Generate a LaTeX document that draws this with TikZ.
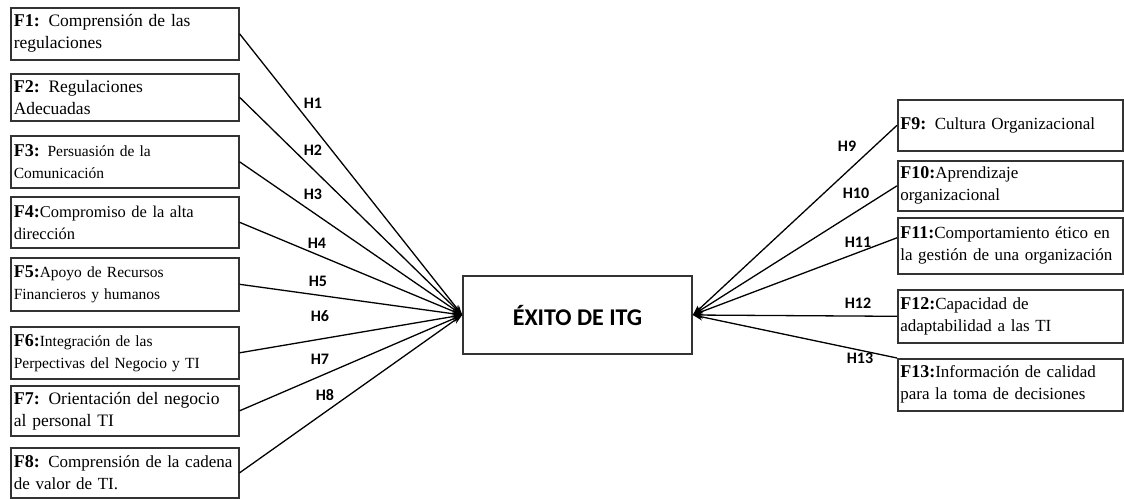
\documentclass[tikz,border=0pt]{standalone}
\usepackage{fontspec}
\setmainfont{Liberation Serif}
\newfontfamily\calib{Carlito}
\newfontfamily\tnr{Liberation Serif}
\usetikzlibrary{arrows.meta}
\tikzset{
  fbox/.style={draw=black!80, line width=1.6pt, anchor=north west, minimum width=228pt,
    text width=222pt, align=left, inner xsep=3pt, inner ysep=3pt, fill=white},
  rbox/.style={fbox, minimum width=225pt, text width=220pt, inner xsep=2.5pt},
  fa/.style={font=\tnr\fontsize{17.5}{22}\selectfont},
  fbb/.style={font=\tnr\fontsize{15.5}{22}\selectfont},
  fcc/.style={font=\tnr\fontsize{16.5}{22}\selectfont},
  fr/.style={font=\tnr\fontsize{17}{22}\selectfont},
  conn/.style={line width=1.3pt, -{Stealth[length=10pt,width=7pt]}},
  hl/.style={font=\calib\bfseries\fontsize{16}{18}\selectfont},
  ctr/.style={draw=black!80, line width=1.6pt, minimum width=229pt, minimum height=78pt,
    font=\calib\bfseries\fontsize{24}{28}\selectfont}
}
\newcommand{\fb}[1]{{\bfseries\fontsize{18}{22}\selectfont #1}}
\begin{document}
\begin{tikzpicture}[x=1pt,y=-1pt]
\useasboundingbox (0,0) rectangle (1124,498);
\node[ctr] (c) at (577.5,315) {ÉXITO DE ITG};
\node[fbox, fa, minimum height=52pt] (l1) at (10,7) {\fb{F1:} Comprensión de las\\regulaciones};
\node[fbox, fa, minimum height=47pt] (l2) at (10,73) {\fb{F2:} Regulaciones\\Adecuadas};
\node[fbox, fbb, minimum height=52pt] (l3) at (10,135) {\fb{F3:} Persuasión de la\\Comunicación};
\node[fbox, fcc, minimum height=51pt] (l4) at (10,196) {\fb{F4:}Compromiso de la alta\\dirección};
\node[fbox, fbb, minimum height=53pt] (l5) at (10,257) {\fb{F5:}Apoyo de Recursos\\Financieros y humanos};
\node[fbox, fbb, minimum height=52pt] (l6) at (10,326) {\fb{F6:}Integración de las\\Perpectivas del Negocio y TI};
\node[fbox, fa, minimum height=50pt] (l7) at (10,385) {\fb{F7:} Orientación del negocio\\al personal TI};
\node[fbox, fr, minimum height=50pt] (l8) at (10,447) {\fb{F8:} Comprensión de la cadena\\de valor de TI.};
\node[rbox, fr, minimum height=51pt] (r9) at (897,99) {\fb{F9:} Cultura Organizacional};
\node[rbox, fr, minimum height=50pt] (r10) at (897,160) {\fb{F10:}Aprendizaje\\organizacional};
\node[rbox, fr, minimum height=56pt] (r11) at (897,217) {\fb{F11:}Comportamiento ético en\\la gestión de una organización};
\node[rbox, fr, minimum height=53pt] (r12) at (897,289) {\fb{F12:}Capacidad de\\adaptabilidad a las TI};
\node[rbox, fr, minimum height=52pt] (r13) at (897,358) {\fb{F13:}Información de calidad\\para la toma de decisiones};
\foreach \i in {1,...,8} \draw[conn] (l\i.east) -- (c.west);
\draw[conn] (r9.west) -- (c.east);
\draw[conn] (r10.west) -- (c.east);
\draw[conn] ([yshift=8pt]r11.west) -- (c.east);
\draw[conn] (r12.west) -- (c.east);
\draw[conn] (r13.north west) -- (c.east);
\node[hl] (h1) at (313,103) {H1};
\node[hl] (h2) at (313,150) {H2};
\node[hl] (h3) at (313,194) {H3};
\node[hl] (h4) at (317,243) {H4};
\node[hl] (h5) at (318,281) {H5};
\node[hl] (h6) at (320,316) {H6};
\node[hl] (h7) at (320,359) {H7};
\node[hl] (h8) at (325,395) {H8};
\node[hl] (h9) at (847,146) {H9};
\node[hl] (h10) at (856,193) {H10};
\node[hl] (h11) at (858,242) {H11};
\node[hl] (h12) at (858,303) {H12};
\node[hl] (h13) at (860,358) {H13};
\end{tikzpicture}
\end{document}
